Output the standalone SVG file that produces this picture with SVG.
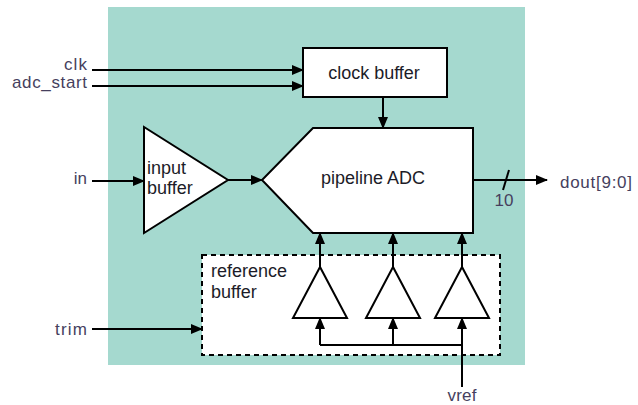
<svg xmlns="http://www.w3.org/2000/svg" width="638" height="405" viewBox="0 0 638 405">
<style>
.ln{stroke:#000;stroke-width:2;fill:none}
.blk{stroke:#000;stroke-width:2;fill:#fff}
.lbl{font-family:"Liberation Sans",Arial,sans-serif;font-size:17px;fill:#463f5e}
.in{font-family:"Liberation Sans",Arial,sans-serif;font-size:18px;fill:#1c1c28}
</style>
<defs>
<marker id="ah" markerWidth="12" markerHeight="10" refX="11" refY="5" orient="auto" markerUnits="userSpaceOnUse">
<path d="M0,0 L12,5 L0,10 Z" fill="#000"/>
</marker>
</defs>
<rect id="background" x="108" y="7" width="417" height="358" fill="#a5d9cf"/>
<g id="refbuf">
<rect x="202" y="255" width="298" height="100" fill="#fff" stroke="#000" stroke-width="2" stroke-dasharray="5,4"/>
<text class="in" x="211" y="277">reference</text>
<text class="in" x="211" y="298">buffer</text>
</g>
<g id="clockbuf">
<rect class="blk" x="303" y="48" width="144" height="49"/>
<text class="in" x="374" y="79" text-anchor="middle">clock buffer</text>
</g>
<g id="adc">
<polygon class="blk" points="313,128 473,128 473,233 313,233 262,180"/>
<text class="in" x="373" y="184" text-anchor="middle">pipeline ADC</text>
</g>
<g id="inbuf">
<polygon class="blk" points="144,127 144,233 228,180"/>
<text class="in" x="147" y="174">input</text>
<text class="in" x="147" y="194">buffer</text>
</g>
<g id="rb1"><polygon class="blk" points="320,267 293,318 347,318"/></g>
<g id="rb2"><polygon class="blk" points="393,267 366,318 420,318"/></g>
<g id="rb3"><polygon class="blk" points="462,267 435,318 489,318"/></g>
<g id="labels">
<text class="lbl" x="87" y="70" text-anchor="end" font-size="14" textLength="23">clk</text>
<text class="lbl" x="87" y="88" text-anchor="end" font-size="14" textLength="75">adc_start</text>
<text class="lbl" x="87" y="184" text-anchor="end">in</text>
<text class="lbl" x="87" y="335" text-anchor="end" textLength="32">trim</text>
<text class="lbl" x="560" y="188" textLength="72">dout[9:0]</text>
<text class="lbl" x="462" y="401" text-anchor="middle" font-size="15" textLength="29">vref</text>
<text class="lbl" x="504" y="206" text-anchor="middle" font-size="13">10</text>
</g>
<g id="connectors">
<line class="ln" x1="92" y1="70" x2="303" y2="70" marker-end="url(#ah)"/>
<line class="ln" x1="92" y1="86" x2="303" y2="86" marker-end="url(#ah)"/>
<line class="ln" x1="383" y1="97" x2="383" y2="128" marker-end="url(#ah)"/>
<line class="ln" x1="92" y1="181" x2="144" y2="181" marker-end="url(#ah)"/>
<line class="ln" x1="228" y1="180" x2="262" y2="180" marker-end="url(#ah)"/>
<line class="ln" x1="473" y1="180" x2="547" y2="180" marker-end="url(#ah)"/>
<line class="ln" x1="503" y1="190" x2="509" y2="170"/>
<line class="ln" x1="92" y1="329" x2="202" y2="329" marker-end="url(#ah)"/>
<line class="ln" x1="320" y1="267" x2="320" y2="233" marker-end="url(#ah)"/>
<line class="ln" x1="393" y1="267" x2="393" y2="233" marker-end="url(#ah)"/>
<line class="ln" x1="462" y1="267" x2="462" y2="233" marker-end="url(#ah)"/>
<polyline class="ln" points="320,345 462,345"/>
<line class="ln" x1="320" y1="345" x2="320" y2="318" marker-end="url(#ah)"/>
<line class="ln" x1="393" y1="345" x2="393" y2="318" marker-end="url(#ah)"/>
<line class="ln" x1="462" y1="387" x2="462" y2="318" marker-end="url(#ah)"/>
</g>
</svg>
